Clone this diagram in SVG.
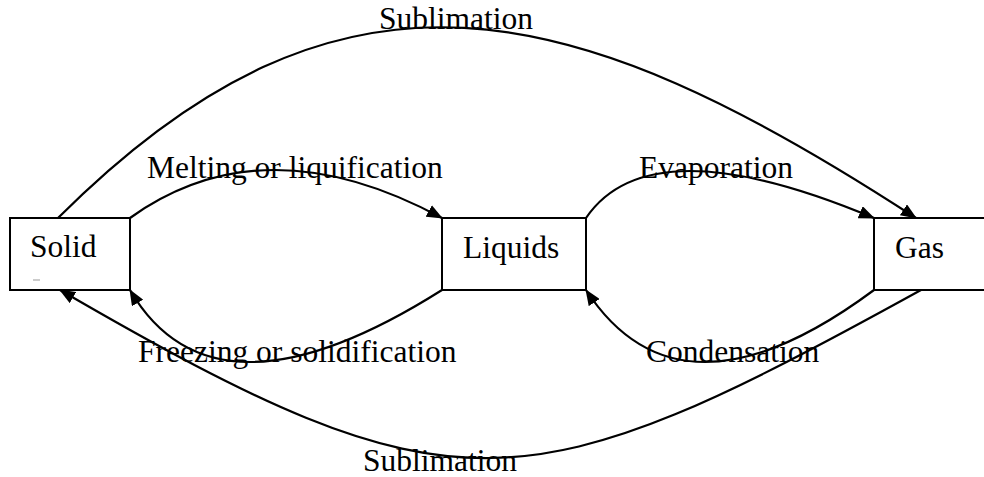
<svg xmlns="http://www.w3.org/2000/svg" width="984" height="477" viewBox="0 0 984 477">
<style>
.box{fill:#fff;stroke:#000;stroke-width:2}
.lbl{font-family:"Liberation Serif","Times New Roman",serif;font-size:31.5px;fill:#000}
.edge{fill:none;stroke:#000;stroke-width:2.2;marker-end:url(#ah)}
</style>
<defs>
<marker id="ah" markerUnits="userSpaceOnUse" markerWidth="16" markerHeight="13" viewBox="0 0 16 13" refX="15" refY="6.5" orient="auto">
<path d="M0,0 L16,6.5 L0,13 z" fill="#000"/>
</marker>
</defs>
<rect width="984" height="477" fill="#fff"/>
<g id="node-solid">
<rect class="box" x="10" y="218" width="120" height="72"/>
<line x1="33" y1="280" x2="40" y2="280" stroke="#999" stroke-width="1"/>
<text class="lbl" x="30" y="257">Solid</text>
</g>
<g id="node-liquids">
<rect class="box" x="442" y="218" width="144" height="72"/>
<text class="lbl" x="463" y="258">Liquids</text>
</g>
<g id="node-gas">
<rect class="box" x="874" y="218" width="124" height="72"/>
<text class="lbl" x="895" y="258">Gas</text>
</g>
<g id="connectors">
<path class="edge" d="M58,218 C341,-65 572,-6 916,218"/>
<path class="edge" d="M130,218 Q264,122 442,218"/>
<path class="edge" d="M586,218 Q650,124 874,218"/>
<path class="edge" d="M442,290 Q214,434 130,290"/>
<path class="edge" d="M874,290 Q680,434 586,290"/>
<path class="edge" d="M921,290 C525,508 456,520 60,290"/>
</g>
<g id="labels">
<text class="lbl" x="379" y="29">Sublimation</text>
<text class="lbl" x="147" y="178">Melting or liquification</text>
<text class="lbl" x="639" y="178">Evaporation</text>
<text class="lbl" x="138" y="362">Freezing or solidification</text>
<text class="lbl" x="646" y="362">Condensation</text>
<text class="lbl" x="363" y="471">Sublimation</text>
</g>
</svg>
